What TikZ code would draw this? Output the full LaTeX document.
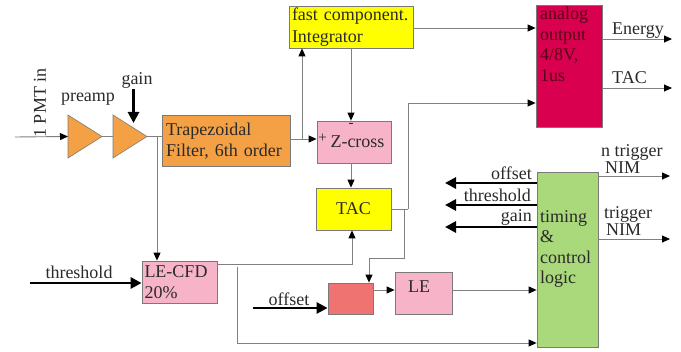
\documentclass[tikz,border=0pt]{standalone}
\usepackage{fontspec}
\setmainfont{Liberation Serif}
\usetikzlibrary{arrows.meta}
\definecolor{wire}{HTML}{808080}
\definecolor{boxline}{HTML}{7A7A7A}
\definecolor{orangefill}{HTML}{F4A146}
\definecolor{yellowfill}{HTML}{FFFF00}
\definecolor{pinkfill}{HTML}{F7B4C9}
\definecolor{crimsonfill}{HTML}{D8004F}
\definecolor{salmonfill}{HTML}{EF7370}
\definecolor{greenfill}{HTML}{AAD97B}
\definecolor{txt}{HTML}{2A2A2A}
\definecolor{maroontxt}{HTML}{5C0018}
\tikzset{
  box/.style={draw=boxline, line width=0.8pt, inner sep=0pt, text=txt},
  wireline/.style={draw=wire, line width=0.9pt},
  wirearrow/.style={wireline, -{Triangle[length=8pt,width=7pt,color=black]}},
  ctrl/.style={draw=black, line width=2.8pt, -{Triangle[length=11pt,width=11pt]}},
  lbl/.style={inner sep=0pt, text=txt},
}
\begin{document}
\begin{tikzpicture}[x=1pt, y=-1pt, font=\fontsize{18}{20.5}\selectfont]
\useasboundingbox (0,0) rectangle (681,352);

% ---------- amplifiers ----------
\coordinate (pa1) at (68,115);  \coordinate (pa2) at (68,158);  \coordinate (patip) at (102,136.5);
\coordinate (ga1) at (113,115); \coordinate (ga2) at (113,158); \coordinate (gatip) at (147,136.5);
\coordinate (pain) at (68,136.5); \coordinate (gain) at (113,136.5);
\draw[draw=boxline, fill=orangefill, line width=0.6pt] (pa1) -- (patip) -- (pa2) -- cycle;
\draw[draw=boxline, fill=orangefill, line width=0.6pt] (ga1) -- (gatip) -- (ga2) -- cycle;

% ---------- blocks ----------
\node[box, fill=orangefill, minimum width=128pt, minimum height=51pt, text width=120pt, align=left]
  (filter) at (226,141) {Trapezoidal\\Filter, 6th order};
\node[box, fill=yellowfill, minimum width=124pt, minimum height=42pt, text width=118pt, align=left]
  (fast) at (351,27) {fast component.\\[1.5pt]Integrator};
\node[box, fill=pinkfill, minimum width=74pt, minimum height=42pt] (zc) at (354,142) {};
\node[lbl] (zctext) at (357.5,142) {Z-cross};
\node[lbl, font=\fontsize{15}{15}\selectfont] (zcplus) at (322.5,138) {+};
\node[lbl, font=\fontsize{15}{15}\selectfont] (zcminus) at (351,125) {-};
\node[box, fill=yellowfill, minimum width=75pt, minimum height=42pt] (tac) at (353.5,209) {TAC};
\node[box, fill=crimsonfill, minimum width=66pt, minimum height=122pt] (analog) at (569,66) {};
\node[lbl, text=maroontxt, anchor=north west, align=left, font=\fontsize{18}{20.5}\selectfont]
  (analogtext) at (540,7) {analog\\output\\4/8V,\\1us};
\node[box, fill=pinkfill, minimum width=75pt, minimum height=42pt, text width=70pt, align=left]
  (lecfd) at (179.5,282) {LE-CFD\\20\%};
\node[box, fill=salmonfill, minimum width=45pt, minimum height=31pt] (offbox) at (350.5,298.5) {};
\node[box, fill=pinkfill, minimum width=57pt, minimum height=42pt] (le) at (423.5,293) {};
\node[lbl] (letext) at (419,287) {LE};
\node[box, fill=greenfill, minimum width=61pt, minimum height=175pt] (timing) at (567.5,259.5) {};
\node[lbl, anchor=north west, align=left] (timingtext) at (540,210) {timing\\\&\\control\\logic};

% ---------- input side ----------
\coordinate (pmtin) at (15,137);
\draw[wirearrow] (pmtin) -- (pain);
\node[lbl, rotate=90] (pmtlabel) at (40,103) {1 PMT in};
\node[lbl] (preamplabel) at (88,99) {preamp};
\node[lbl] (gainlabel) at (137,80) {gain};
\coordinate (gaintop) at (133.5,89);
\coordinate (gainbot) at (133.5,123);
\draw[ctrl] (gaintop) -- (gainbot);
\draw[wireline] (patip) -- (gain);
\draw[wireline] (gatip) -- (filter.west |- gatip);

% filter output to LE-CFD
\coordinate (tapf) at (157,136.5);
\draw[wirearrow] (tapf) -- (tapf |- lecfd.north);

% filter output to integrator and zero crossing
\coordinate (fsplit) at (302,139);
\draw[wireline] (filter.east |- fsplit) -- (fsplit);
\draw[wirearrow] (fsplit) -- (fsplit |- fast.south);
\draw[wirearrow] (fsplit) -- (zc.west |- fsplit);
\draw[wirearrow] (fast.south -| zcminus) -- (zcminus |- zc.north);
\draw[wirearrow] (zcminus |- zc.south) -- (zcminus |- tac.north);

% integrator to analog output
\coordinate (fastout) at (413,28);
\draw[wirearrow] (fastout) -- (analog.west |- fastout);

% TAC to analog output and to offset stage
\coordinate (tacout) at (408,209);
\coordinate (tacup) at (408,103);
\draw[wireline] (tac.east |- tacout) -- (tacout);
\draw[wirearrow] (tacout) -- (tacup) -- (analog.west |- tacup);
\coordinate (tacbr) at (404,209);
\coordinate (tacdn) at (404,258);
\coordinate (offin) at (369,258);
\draw[wirearrow] (tacbr) -- (tacdn) -- (offin) -- (offin |- offbox.north);

% offset stage to LE to logic
\coordinate (lerow) at (0,290);
\draw[wirearrow] (offbox.east |- lerow) -- (le.west |- lerow);
\draw[wirearrow] (le.east |- lerow) -- (timing.west |- lerow);

% LE-CFD to TAC start and to logic
\coordinate (cfdrow) at (352,264);
\draw[wirearrow] (lecfd.east |- cfdrow) -- (cfdrow) -- (cfdrow |- tac.south);
\coordinate (cfdbr) at (237,267);
\coordinate (cfdlow) at (237,343);
\draw[wirearrow] (cfdbr) -- (cfdlow) -- (timing.west |- cfdlow);

% control inputs
\coordinate (thrin) at (30,283);
\draw[ctrl] (thrin) -- (lecfd.west |- thrin);
\node[lbl] (thrlabel) at (79,272) {threshold};
\coordinate (offsetin) at (253,308);
\draw[ctrl] (offsetin) -- (offbox.west |- offsetin);
\node[lbl] (offlabel) at (289,299) {offset};

% control outputs of the logic
\coordinate (co1) at (445,183);
\coordinate (co2) at (445,205);
\coordinate (co3) at (445,227);
\draw[ctrl] (timing.west |- co1) -- (co1);
\draw[ctrl] (timing.west |- co2) -- (co2);
\draw[ctrl] (timing.west |- co3) -- (co3);
\node[lbl, anchor=east] (o1label) at (532,173) {offset};
\node[lbl, anchor=east] (o2label) at (531,195) {threshold};
\node[lbl, anchor=east] (o3label) at (532,217) {gain};

% outputs
\coordinate (enout) at (672,39);
\coordinate (tacoutr) at (672,88);
\draw[wirearrow] (analog.east |- enout) -- (enout);
\draw[wirearrow] (analog.east |- tacoutr) -- (tacoutr);
\node[lbl, anchor=west] (enlabel) at (612,31) {Energy};
\node[lbl, anchor=west] (taclabel) at (612,78) {TAC};
\coordinate (ntrig) at (670,176);
\coordinate (trig) at (670,239);
\draw[wirearrow] (timing.east |- ntrig) -- (ntrig);
\draw[wirearrow] (timing.east |- trig) -- (trig);
\node[lbl, anchor=west, align=left] (ntriglabel) at (601,159) {n trigger\\[-3pt]\hspace*{4pt}NIM};
\node[lbl, anchor=west, align=left] (triglabel) at (604,221) {trigger\\[-3pt]\hspace*{2pt}NIM};
\end{tikzpicture}
\end{document}
